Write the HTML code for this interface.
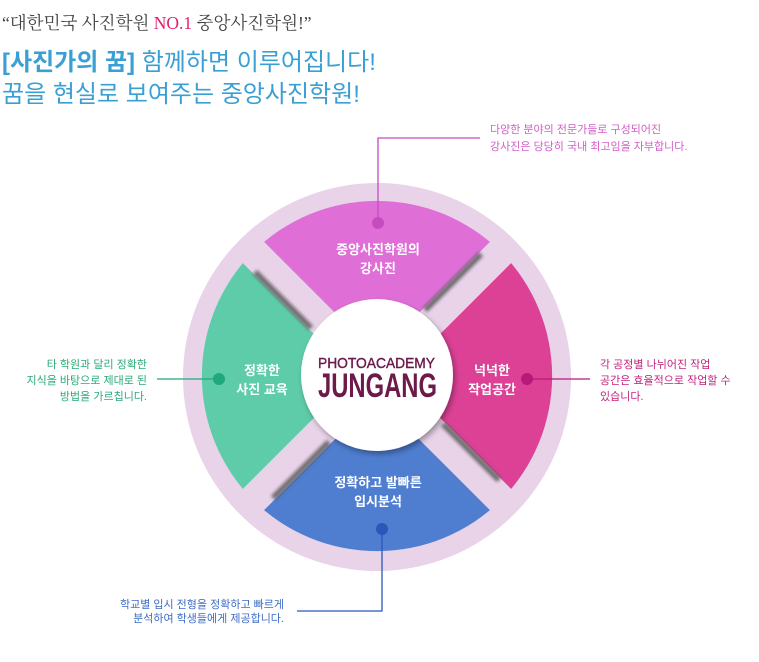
<!DOCTYPE html>
<html><head><meta charset="utf-8"><style>
html,body{margin:0;padding:0;background:#fff;}
body{width:759px;height:662px;overflow:hidden;position:relative;font-family:"Liberation Sans","Noto Sans CJK KR",sans-serif;}
</style></head><body>
<svg width="759" height="662" viewBox="0 0 759 662" xmlns="http://www.w3.org/2000/svg" style="position:absolute;left:0;top:0">
<defs>
<filter id="bl" x="-50%" y="-50%" width="200%" height="200%"><feGaussianBlur stdDeviation="1.6"/></filter>
<filter id="cs" x="-30%" y="-30%" width="160%" height="160%"><feDropShadow dx="2" dy="3" stdDeviation="3" flood-color="#000" flood-opacity="0.35"/></filter>
</defs>
<text x="2" y="29" font-family="'Liberation Serif','Noto Serif CJK SC',serif" font-size="17.5" fill="#444">“대한민국 사진학원 <tspan fill="#e0206e">NO.1</tspan> 중앙사진학원!”</text>
<text x="2" y="70" font-family="'Liberation Sans','Noto Sans CJK KR',sans-serif" font-size="24" fill="#3a9fd4"><tspan font-weight="bold">[사진가의 꿈]</tspan> 함께하면 이루어집니다!</text>
<text x="2" y="102" font-family="'Liberation Sans','Noto Sans CJK KR',sans-serif" font-size="24" fill="#3a9fd4">꿈을 현실로 보여주는 중앙사진학원!</text>

<circle cx="377" cy="377" r="194" fill="#e8d3e8"/>
<path d="M377,376 L253,252 A176,176 0 0 1 501,252 Z" fill="#df6fd7"/>
<path d="M377,376 L501,252 A176,176 0 0 1 501,500 Z" fill="#dc4196"/>
<path d="M377,376 L501,500 A176,176 0 0 1 253,500 Z" fill="#4f7dd0"/>
<path d="M377,376 L253,500 A176,176 0 0 1 253,252 Z" fill="#5ecca9"/>
<g stroke="#e8d3e8" stroke-width="30">
<line x1="377" y1="376" x2="251" y2="250"/>
<line x1="377" y1="376" x2="503" y2="250"/>
<line x1="377" y1="376" x2="503" y2="502"/>
<line x1="377" y1="376" x2="251" y2="502"/>
</g>
<g id="sh"><line x1="311" y1="328" x2="255" y2="272" stroke="#555" stroke-width="6" opacity="0.8" filter="url(#bl)"/></g>
<use href="#sh" transform="rotate(90 377 376)"/>
<use href="#sh" transform="rotate(180 377 376)"/>
<use href="#sh" transform="rotate(270 377 376)"/>
<circle cx="377" cy="375" r="76" fill="#fff" filter="url(#cs)"/>
<text x="318" y="368" font-size="15" fill="#6b1a4a" textLength="117" lengthAdjust="spacingAndGlyphs" font-family="'Liberation Sans',sans-serif" stroke="#6b1a4a" stroke-width="0.4">PHOTOACADEMY</text>
<text x="318" y="397" font-size="34" font-weight="bold" fill="#6b1a4a" textLength="119" lengthAdjust="spacingAndGlyphs" font-family="'Liberation Sans Narrow','Liberation Sans',sans-serif">JUNGANG</text>

<g fill="#fff" font-size="13" font-weight="bold" text-anchor="middle">
<text x="378" y="254">중앙사진학원의</text><text x="378" y="273">강사진</text>
<text x="262" y="375">정확한</text><text x="262" y="394">사진 교육</text>
<text x="492" y="375">넉넉한</text><text x="492" y="394">작업공간</text>
<text x="378" y="487">정확하고 발빠른</text><text x="378" y="506">입시분석</text>
</g>

<polyline points="378,223 378,138 480,138" fill="none" stroke="#c44cc0" stroke-width="1.3"/>
<circle cx="378" cy="223" r="6" fill="#c44cc0"/>
<line x1="219" y1="379" x2="157" y2="379" stroke="#1fa97a" stroke-width="1.3"/>
<circle cx="219" cy="379" r="6" fill="#1fa97a"/>
<line x1="527" y1="379" x2="590" y2="379" stroke="#b5197a" stroke-width="1.3"/>
<circle cx="527" cy="379" r="6" fill="#b5197a"/>
<polyline points="382,529 382,611 297,611" fill="none" stroke="#2a57b8" stroke-width="1.3"/>
<circle cx="382" cy="529" r="6" fill="#2a57b8"/>

<g font-size="11">
<text x="490" y="133" fill="#d25fc8">다양한 분야의 전문가들로 구성되어진</text>
<text x="490" y="150" fill="#d25fc8">강사진은 당당히 국내 최고임을 자부합니다.</text>
<g fill="#2aaa78" text-anchor="end">
<text x="147" y="368">타 학원과 달리 정확한</text>
<text x="147" y="384">지식을 바탕으로 제대로 된</text>
<text x="147" y="400">방법을 가르칩니다.</text>
</g>
<g fill="#c0247f">
<text x="600" y="368">각 공정별 나뉘어진 작업</text>
<text x="600" y="384">공간은 효율적으로 작업할 수</text>
<text x="600" y="400">있습니다.</text>
</g>
<g fill="#3d6cc6" text-anchor="end">
<text x="284" y="608">학교별 입시 전형을 정확하고 빠르게</text>
<text x="284" y="622">분석하여 학생들에게 제공합니다.</text>
</g>
</g>
</svg>
</body></html>
